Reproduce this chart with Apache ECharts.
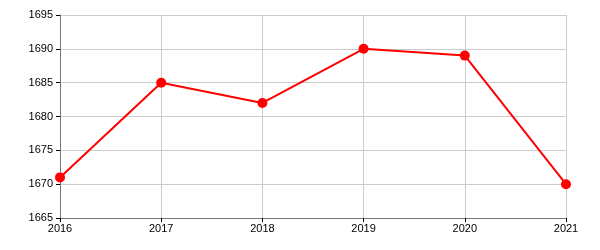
<!DOCTYPE html>
<html><head><meta charset="utf-8">
<script src="https://cdn.jsdelivr.net/npm/echarts@6/dist/echarts.min.js"></script>
<style>html,body{margin:0;padding:0;background:#fff}#c{width:600px;height:250px}</style>
</head><body><div id="c"></div>
<script>
const categories = ['2016','2017','2018','2019','2020','2021'];
const values = [1671, 1685, 1682, 1690, 1689, 1670];
const yMin = 1665, yMax = 1695, yStep = 5;

const chart = echarts.init(document.getElementById('c'), null, {renderer:'canvas'});
chart.setOption({
  animation: false,
  grid: {left: 60, right: 34, top: 15, bottom: 32, containLabel: false},
  xAxis: {
    type: 'category', data: categories, boundaryGap: false,
    axisLine: {show: true, lineStyle: {color: '#777', width: 1}},
    axisTick: {show: true, alignWithLabel: true, length: 4, lineStyle: {color: '#000'}},
    axisLabel: {color: '#000', fontFamily: 'Arial, Liberation Sans', fontSize: 11, margin: 5},
    splitLine: {show: true, lineStyle: {color: '#ccc', width: 1}}
  },
  yAxis: {
    type: 'value', min: yMin, max: yMax, interval: yStep,
    axisLine: {show: true, lineStyle: {color: '#777', width: 1}},
    axisTick: {show: true, length: 4, lineStyle: {color: '#000'}},
    axisLabel: {color: '#000', fontFamily: 'Arial, Liberation Sans', fontSize: 11, margin: 7,
      formatter: v => String(v)},
    splitLine: {show: true, lineStyle: {color: '#ccc', width: 1}}
  },
  series: [{
    type: 'line', data: values,
    symbol: 'circle', symbolSize: 10,
    lineStyle: {color: '#ff0000', width: 2},
    itemStyle: {color: '#ff0000'}
  }]
});
</script></body></html>
